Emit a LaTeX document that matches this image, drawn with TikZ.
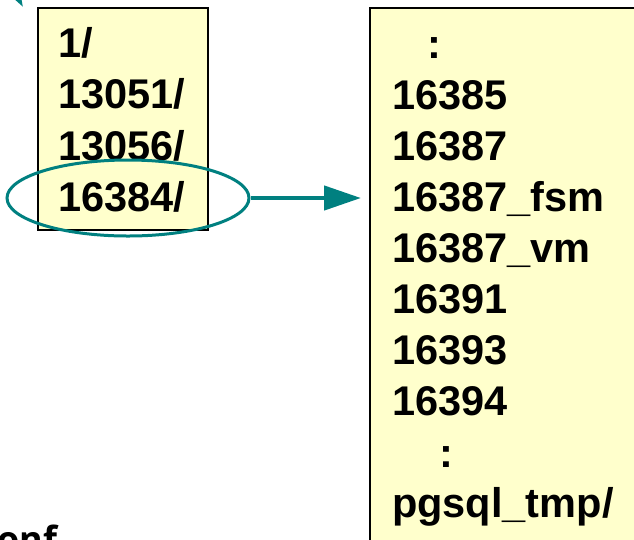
\documentclass[tikz,border=0pt]{standalone}
\usepackage{fontspec}
\setmainfont{Liberation Sans}
\newfontfamily\confont{Open Sans}
\usetikzlibrary{shapes.geometric,arrows.meta}
\definecolor{teal1}{HTML}{008080}
\definecolor{boxfill}{HTML}{FFFFCC}
\begin{document}
\begin{tikzpicture}[x=1pt,y=-1pt,
  dirbox/.style={draw=black,line width=2pt,fill=boxfill,rectangle,inner sep=0pt},
  entry/.style={anchor=base west,inner sep=0pt,font=\fontsize{41.5}{50}\selectfont\bfseries},
  ring/.style={draw=teal1,line width=3pt,ellipse,inner sep=0pt},
  pointer/.style={draw=teal1,line width=4.5pt,-{Triangle[length=37pt,width=24pt]}}]
\useasboundingbox (0,0) rectangle (634,539);
\clip (0,0) rectangle (634,539);
% boxes
\node[dirbox,minimum width=170pt,minimum height=222pt] (lbox) at (123,119) {};
\node[dirbox,minimum width=280pt,minimum height=552pt] (rbox) at (510,284) {};
% left entries
\node[entry] (l0) at (58,57) {1/};
\node[entry] (l1) at (58,108) {13051/};
\node[entry] (l2) at (58,160) {13056/};
\node[entry] (l3) at (58,211) {16384/};
% right entries
\node[entry] (r0) at (427,58) {:};
\node[entry] (r1) at (392,109) {16385};
\node[entry] (r2) at (392,160) {16387};
\node[entry] (r3) at (392,211) {16387\_fsm};
\node[entry] (r4) at (392,262) {16387\_vm};
\node[entry] (r5) at (392,313) {16391};
\node[entry] (r6) at (392,364) {16393};
\node[entry] (r7) at (392,415) {16394};
\node[entry] (r8) at (439,467) {:};
\node[entry] (r9) at (392,517) {pgsql\_tmp/};
% ellipse around 16384/
\node[ring,minimum width=242pt,minimum height=76pt] (ell) at (128,198) {};
% arrow to right box
\draw[pointer,shorten >=8pt] (ell.east) -- (ell.east -| rbox.west);
% incoming arrow at top left (mostly outside)
\coordinate (tlstart) at (-20,-70);
\coordinate (tlend) at (23,7);
\draw[pointer] (tlstart) -- (tlend);
% partial text at bottom left
\node[anchor=base west,inner sep=0pt,font=\confont\fontsize{36}{40}\selectfont\bfseries] (conf) at (-3,552) {onf};
\end{tikzpicture}
\end{document}
